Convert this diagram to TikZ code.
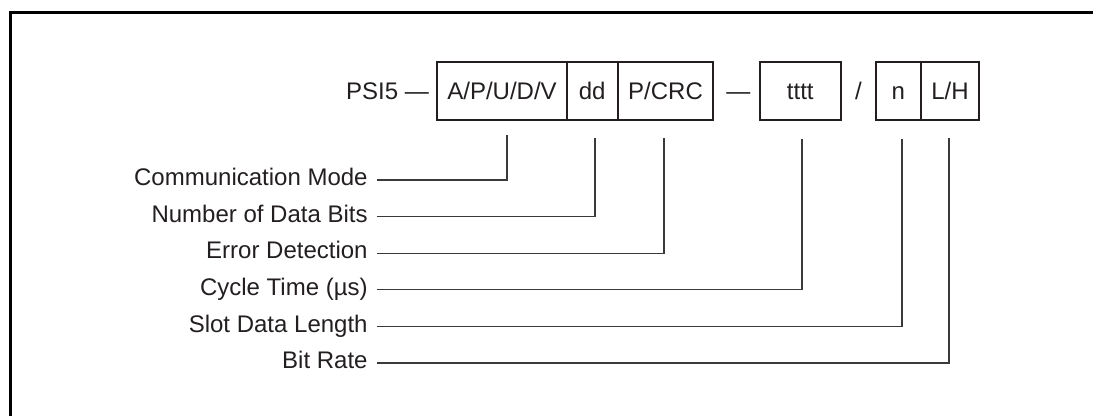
\documentclass[tikz,border=0pt]{standalone}
\usepackage{fontspec}
\setmainfont{Liberation Sans}
\usetikzlibrary{positioning}

\begin{document}
\begin{tikzpicture}[x=0.5pt,y=-0.5pt,font=\fontsize{12}{14.4}\selectfont,
  campo/.style={draw=colBox, line width=0.9pt, outer sep=0pt, inner sep=0pt,
    minimum height=29pt, text height=8.6pt, text depth=0pt, text=colTxt},
  testo/.style={inner sep=0pt, text height=8.6pt, text depth=0pt, text=colTxt},
  voce/.style={anchor=east, inner xsep=4.35pt, inner ysep=0pt,
    text height=8pt, text depth=2.3pt, text=colTxt},
  guida/.style={draw=colLine, line width=0.6pt}]

% Colori
\definecolor{colBox}{HTML}{231F20}
\definecolor{colTxt}{HTML}{231F20}
\definecolor{colLine}{HTML}{3A3A3A}

\useasboundingbox (0,0) rectangle (1093,416);

% Cornice
\draw[black, line width=1.2pt] (10.5,416) -- (10.5,12.5) -- (1093,12.5);

% Campi del formato
\node[campo, minimum width=64.7pt] (apudv) at (502,91) {A/P/U/D/V};
\node[campo, minimum width=25.5pt, right=0pt of apudv] (dd) {dd};
\node[campo, minimum width=47.8pt, right=0pt of dd] (pcrc) {P/CRC};
\node[campo, minimum width=40.35pt] (tttt) at (800.3,91) {tttt};
\node[campo, minimum width=22.35pt] (n) at (898.3,91) {n};
\node[campo, minimum width=29.3pt, right=0pt of n] (lh) {L/H};

% Prefisso e separatori
\node[testo, left=4pt of apudv] (psi) {PSI5 —};
\node[testo] (sep1) at (738.3,91) {—};
\node[testo] (sep2) at (858.5,91) {/};

% Voci
\node[voce] (modo) at (376.7,180) {Communication Mode};
\node[voce] (bit) at (376.7,216.6) {Number of Data Bits};
\node[voce] (err) at (376.7,253.2) {Error Detection};
\node[voce] (ciclo) at (376.7,289.8) {Cycle Time (µs)};
\node[voce] (slot) at (376.7,326.4) {Slot Data Length};
\node[voce] (rate) at (376.7,363) {Bit Rate};

% Punti sotto i campi
\coordinate (pModo) at (507,135);
\coordinate (pBit) at (595,138);
\coordinate (pErr) at (664,138);
\coordinate (pCiclo) at (802,139);
\coordinate (pSlot) at (902,139);
\coordinate (pRate) at (949,138);

% Linee guida
\draw[guida] (modo.east) -| (pModo);
\draw[guida] (bit.east) -| (pBit);
\draw[guida] (err.east) -| (pErr);
\draw[guida] (ciclo.east) -| (pCiclo);
\draw[guida] (slot.east) -| (pSlot);
\draw[guida] (rate.east) -| (pRate);

\end{tikzpicture}
\end{document}
